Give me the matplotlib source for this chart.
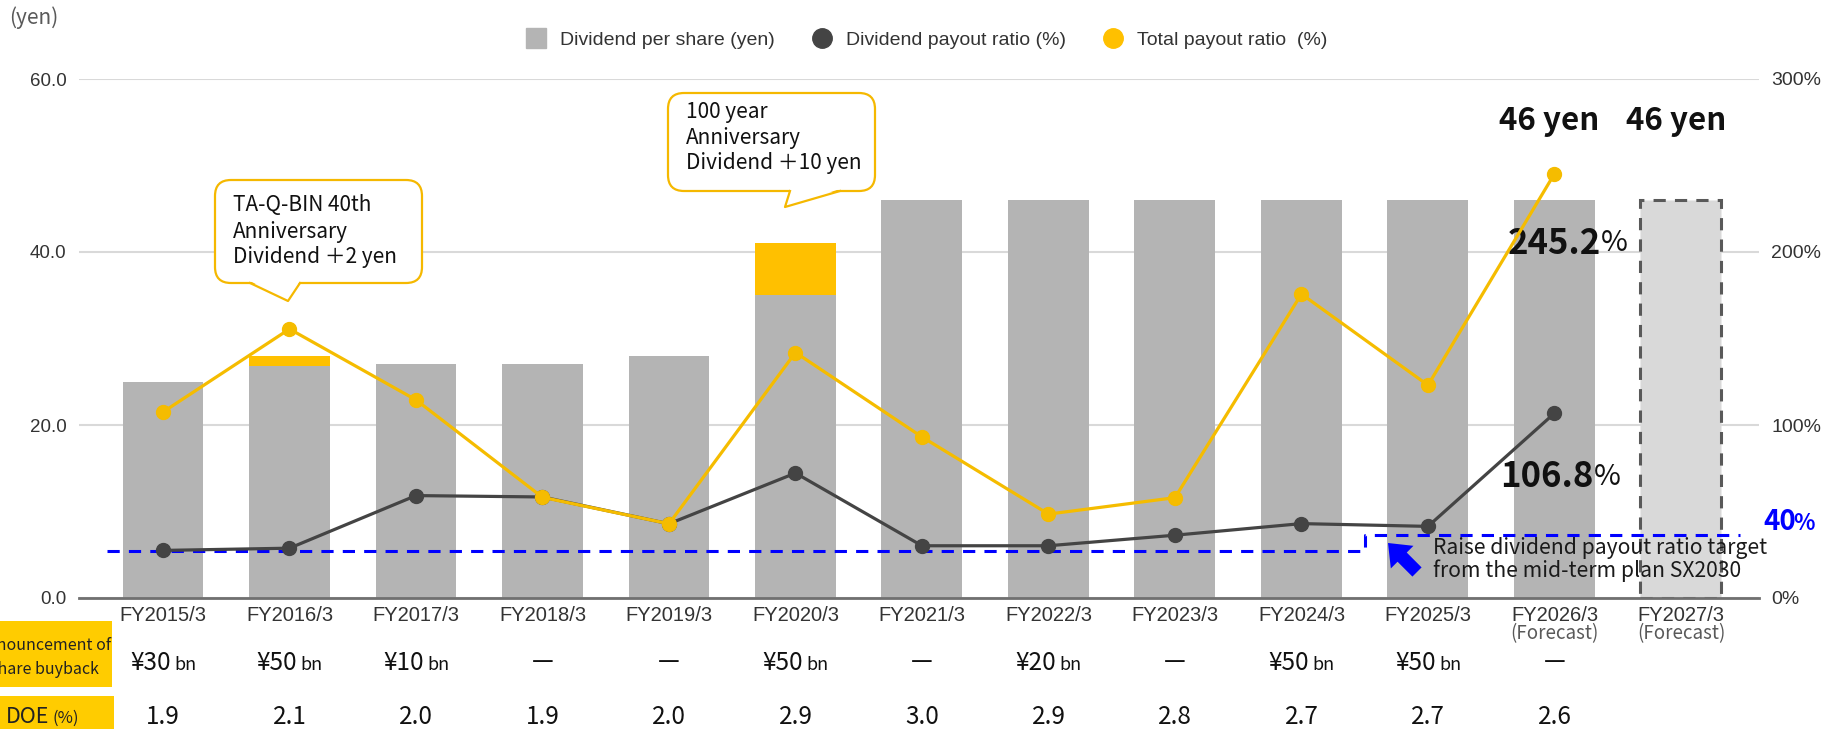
import matplotlib
matplotlib.use("Agg")
import matplotlib.pyplot as plt
from matplotlib.patches import FancyBboxPatch, Polygon, FancyArrow
from matplotlib.lines import Line2D
from matplotlib.transforms import blended_transform_factory

W, H = 1829, 729
JP = ["Noto Sans CJK JP", "DejaVu Sans"]
plt.rcParams["font.family"] = ["Liberation Sans", "DejaVu Sans"]

# ---- data ----
years = ["FY2015/3", "FY2016/3", "FY2017/3", "FY2018/3", "FY2019/3", "FY2020/3",
         "FY2021/3", "FY2022/3", "FY2023/3", "FY2024/3", "FY2025/3", "FY2026/3",
         "FY2027/3"]
dps_base = [25, 26.8, 27, 27, 28, 35, 46, 46, 46, 46, 46, 46, 46]
dps_extra = [0, 1.2, 0, 0, 0, 6, 0, 0, 0, 0, 0, 0, 0]   # commemorative dividend
outlook_idx = 12                                        # dashed forecast bar
div_payout = [27.5, 28.8, 59.2, 58.4, 42.9, 72.2, 30.2, 30.2, 36.3, 43.0, 41.4, 106.8]
total_payout = [107.5, 155.5, 114.5, 58.2, 42.9, 141.9, 93.1, 48.5, 58.0, 175.7, 123.0, 245.2]
forecast_years = [11, 12]
buyback = ["¥30", "¥50", "¥10", "—", "—", "¥50", "—", "¥20", "—", "¥50", "¥50", "—"]
doe = ["1.9", "2.1", "2.0", "1.9", "2.0", "2.9", "3.0", "2.9", "2.8", "2.7", "2.7", "2.6"]
target_x = [-0.44, 9.5, 9.5, 12.47]
target_pct = [27.2, 27.2, 36.4, 36.4]

GRAY = "#B4B4B4"
YEL = "#FFC000"
LINE_Y = "#F5BC00"
DARK = "#444444"
BLUE = "#0000FF"

fig = plt.figure(figsize=(W / 100, H / 100), dpi=100)
ax = fig.add_axes([79 / W, 1 - 598 / H, (1759 - 79) / W, (598 - 79) / H])
ax2 = ax.twinx()

x = list(range(len(years)))
n = len(div_payout)

# bars
ax.bar(x[:outlook_idx], dps_base[:outlook_idx], width=0.64, color=GRAY, zorder=2)
ax.bar(x[:outlook_idx], dps_extra[:outlook_idx], width=0.64,
       bottom=dps_base[:outlook_idx], color=YEL, zorder=2)
ax.bar(x[outlook_idx], dps_base[outlook_idx], width=0.64, color="#D9D9D9",
       edgecolor="#595959", linestyle=(0, (4, 3)), linewidth=2.2, zorder=2)

ax.set_xlim(-0.664, 12.617)
ax.set_ylim(0, 60)
ax.set_yticks([0, 20, 40, 60])
ax.set_yticklabels([f"{v:.1f}" for v in [0, 20, 40, 60]])
ax.yaxis.grid(True, color="#D9D9D9", lw=1.5)
ax.set_axisbelow(True)
ax.set_xticks(x)
ax.set_xticklabels(years)
ax.tick_params(axis="x", length=0, pad=6, labelsize=14.5, labelcolor="#333333")
ax.tick_params(axis="y", length=0, pad=9, labelsize=13.5, labelcolor="#333333")
for s in ["top", "left", "right"]:
    ax.spines[s].set_visible(False)
ax.spines["bottom"].set_color("#707070")
ax.spines["bottom"].set_linewidth(2)

# payout ratio lines
ax2.plot(target_x, target_pct, color=BLUE, lw=2.2, ls=(0, (4, 3)), zorder=2)
ax2.plot(x[:n], div_payout, color=DARK, lw=2.3, marker="o", ms=10, zorder=3)
ax2.plot(x[:n], total_payout, color=LINE_Y, lw=2.3, marker="o", ms=10, zorder=4)
ax2.set_ylim(0, 300)
ax2.set_yticks([0, 100, 200, 300])
ax2.set_yticklabels([f"{v}%" for v in [0, 100, 200, 300]])
ax2.tick_params(axis="y", length=0, pad=9, labelsize=14, labelcolor="#333333")
for s in ax2.spines.values():
    s.set_visible(False)

# value labels
for i in [11, 12]:
    ax.text(i - 0.04, 55.1, "46 yen", family=JP, fontsize=22.5, fontweight="bold",
            ha="center", va="center", color="#111111")
for i, val, yy in [(11.37, total_payout[11], 41.0), (11.31, div_payout[11], 14.0)]:
    ax.text(i, yy, f"{val:.1f}", family=JP, fontsize=25, fontweight="bold",
            ha="right", va="center", color="#111111", zorder=6)
    ax.text(i, yy, "%", family=JP, fontsize=21, ha="left", va="center",
            color="#111111", zorder=6)
ax.text(12.65, 8.8, "40", family=JP, fontsize=20, fontweight="bold", color=BLUE,
        ha="left", va="center", clip_on=False)
ax.text(12.885, 8.6, "%", family=JP, fontsize=16, fontweight="bold", color=BLUE,
        ha="left", va="center", clip_on=False)
ax.text(10.04, 4.45, "Raise dividend payout ratio target\nfrom the mid-term plan SX2030",
        family=JP, fontsize=15.2, ha="left", va="center", color="#1A1A1A",
        linespacing=1.0, zorder=6)

# overlay in pixel units for callouts and the table below the axis
ov = fig.add_axes([0, 0, 1, 1], zorder=10)
ov.set_xlim(0, W)
ov.set_ylim(H, 0)
ov.axis("off")
ov.patch.set_alpha(0)

ov.add_patch(FancyArrow(1417, 572, -29, -29, width=13, head_width=32,
                        head_length=20, length_includes_head=True, color=BLUE, lw=0))


def callout(x0, y0, x1, y1, base, tip, lines, ys):
    ov.add_patch(FancyBboxPatch((x0, y0), x1 - x0, y1 - y0,
                                boxstyle="round,pad=0,rounding_size=16",
                                fc="white", ec="#F5B800", lw=1.6))
    ov.add_patch(Polygon([(base[0], y1 - 2), tip, (base[1], y1 - 2)],
                         closed=True, fc="white", ec="none"))
    ov.plot([base[0], tip[0], base[1]], [y1, tip[1], y1], color="#F5B800", lw=1.6)
    for t, yy in zip(lines, ys):
        ov.text(x0 + 18, yy, t, family=JP, fontsize=15, va="center", ha="left",
                color="#111111")


callout(215, 180, 422, 283, (250, 300), (288, 301),
        ["TA-Q-BIN 40th", "Anniversary", "Dividend ＋2 yen"], [205, 232, 257])
callout(668, 93, 875, 191, (790, 840), (785, 207),
        ["100 year", "Anniversary", "Dividend ＋10 yen"], [112, 138, 163])

ov.text(9, 18, "(yen)", family=JP, fontsize=15, color="#595959", va="center")

# x-axis "(Forecast)" second line
bt = blended_transform_factory(ax.transData, ov.transData)
for i in forecast_years:
    ov.text(i, 634, "(Forecast)", transform=bt, family=JP, fontsize=13.5,
            color="#595959", ha="center", va="center")

# table rows
ov.add_patch(plt.Rectangle((0, 621), 112, 66, color="#FFCC00", lw=0))
ov.add_patch(plt.Rectangle((0, 696), 114, 40, color="#FFCC00", lw=0))
ov.text(44, 646, "Announcement of", family=JP, fontsize=11.5,
        ha="center", va="center", color="#222222")
ov.text(44, 670, "share buyback", family=JP, fontsize=11.5,
        ha="center", va="center", color="#222222")
ov.text(49, 717, "DOE", family=JP, fontsize=15.5, ha="right", va="center", color="#222222")
ov.text(53, 718, "(%)", family=JP, fontsize=12, ha="left", va="center", color="#222222")

for i, (b, d) in enumerate(zip(buyback, doe)):
    if b.startswith("¥"):
        ov.text(i + 0.06, 663, b, transform=bt, family=JP, fontsize=17.5,
                ha="right", va="center", color="#111111")
        ov.text(i + 0.09, 665, "bn", transform=bt, family=JP, fontsize=13,
                ha="left", va="center", color="#111111")
    else:
        ov.text(i, 661, b, transform=bt, family=JP, fontsize=17.5,
                ha="center", va="center", color="#111111")
    ov.text(i, 717, d, transform=bt, family=JP, fontsize=17.5,
            ha="center", va="center", color="#111111")

# legend
handles = [
    Line2D([], [], ls="none", marker="s", ms=14, color=GRAY),
    Line2D([], [], ls="none", marker="o", ms=14, color=DARK),
    Line2D([], [], ls="none", marker="o", ms=14, color=YEL),
]
labels = ["Dividend per share (yen)", "Dividend payout ratio (%)", "Total payout ratio  (%)"]
fig.legend(handles, labels, loc="center", bbox_to_anchor=(927 / W, 1 - 40 / H),
           ncol=3, frameon=False, fontsize=14, columnspacing=1.9,
           handletextpad=0.75, handlelength=1.0, labelcolor="#333333")

fig.savefig("out.png", dpi=100)
